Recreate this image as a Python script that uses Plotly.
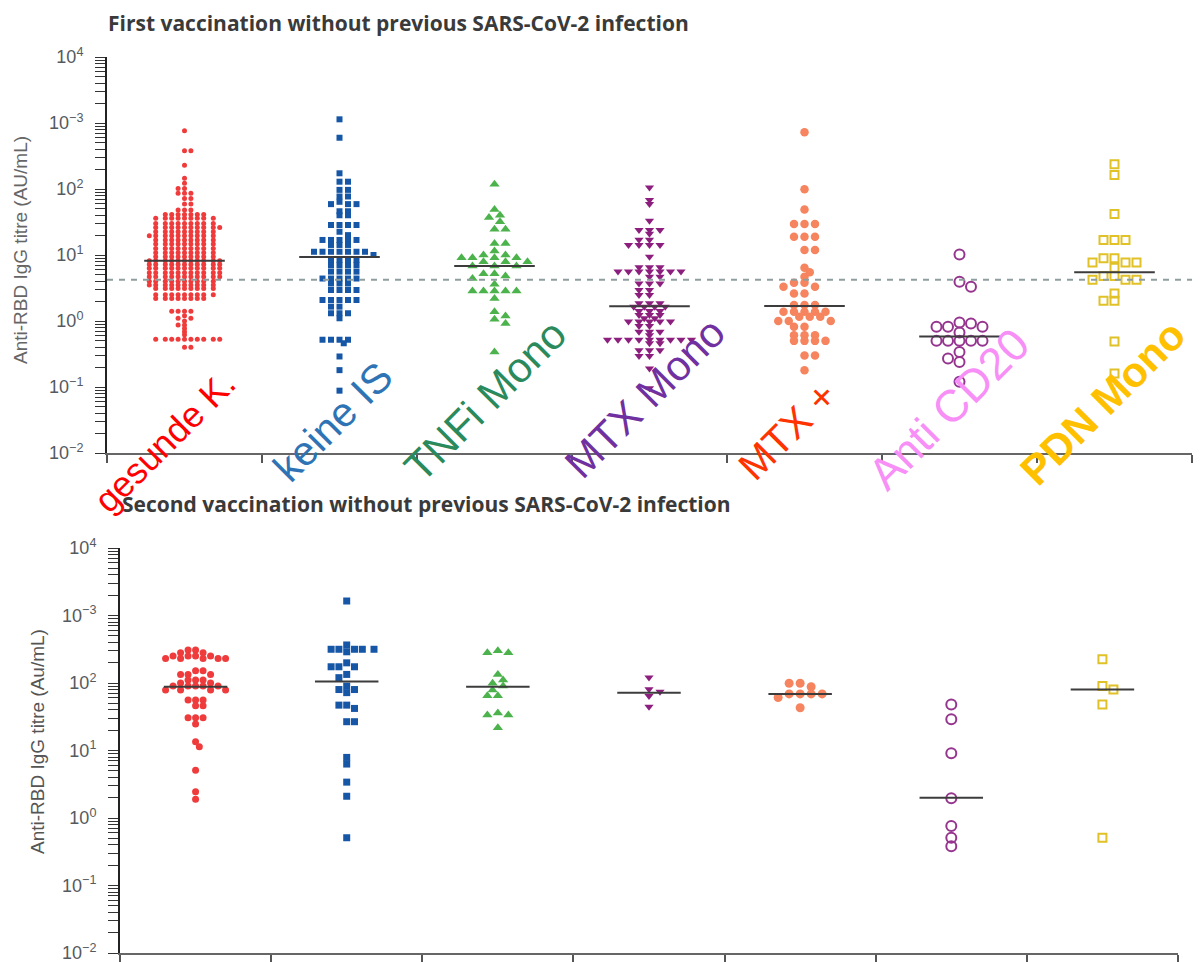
import numpy as np
import plotly.graph_objects as go

W, H = 1203, 962
PAGE_OFFSET = 8  # the html body margin shifts the figure by this many pixels

# ---------------- data ----------------
categories = ["gesunde K.", "keine IS", "TNFi Mono", "MTX Mono", "MTX +", "Anti CD20", "PDN Mono"]
label_colors = ["#ff0000", "#2e74b5", "#2a8a5c", "#7030a0", "#ff3300", "#f78ff7", "#ffc000"]
label_bold = [False, False, False, False, False, False, True]
label_sizes = [36, 41, 42, 42, 40, 45, 42]

marker_colors = ["#ef3b3b", "#1556a6", "#4cb24c", "#8c1f7e", "#f5845f", "#96358f", "#e0c228"]
marker_symbols = ["circle", "square", "triangle-up", "triangle-down", "circle", "circle-open", "square-open"]

first_healthy = [
    765, 380, 380, 230, 145, 122, 102, 102, 86, 86, 86, 72, 72, 59, 59, 48, 48, 48,
    41, 41, 41, 41, 41, 41, 41,
    36, 36, 36, 36, 36, 36, 36, 36, 36,
    30, 30, 30, 30, 30, 30, 30, 30, 30,
    26, 26, 26, 26, 26, 26, 26, 26, 26, 26,
    22.5, 22.5, 22.5, 22.5, 22.5, 22.5, 22.5, 22.5, 22.5,
    19.6, 19.6, 19.6, 19.6, 19.6, 19.6, 19.6, 19.6, 19.6, 19.6,
    16.9, 16.9, 16.9, 16.9, 16.9, 16.9, 16.9, 16.9, 16.9,
    14.7, 14.7, 14.7, 14.7, 14.7, 14.7, 14.7, 14.7, 14.7,
    12.6, 12.6, 12.6, 12.6, 12.6, 12.6, 12.6, 12.6, 12.6,
    10.8, 10.8, 10.8, 10.8, 10.8, 10.8, 10.8, 10.8, 10.8,
    9.4, 9.4, 9.4, 9.4, 9.4, 9.4, 9.4, 9.4, 9.4,
    8.2, 8.2, 8.2, 8.2, 8.2, 8.2, 8.2, 8.2, 8.2, 8.2, 8.2,
    7.2, 7.2, 7.2, 7.2, 7.2, 7.2, 7.2, 7.2, 7.2, 7.2, 7.2,
    6.3, 6.3, 6.3, 6.3, 6.3, 6.3, 6.3, 6.3, 6.3, 6.3, 6.3,
    5.4, 5.4, 5.4, 5.4, 5.4, 5.4, 5.4, 5.4, 5.4, 5.4, 5.4,
    4.7, 4.7, 4.7, 4.7, 4.7, 4.7, 4.7, 4.7, 4.7, 4.7, 4.7,
    4.0, 4.0, 4.0, 4.0, 4.0, 4.0, 4.0, 4.0, 4.0, 4.0,
    3.5, 3.5, 3.5, 3.5, 3.5, 3.5, 3.5, 3.5, 3.5, 3.5,
    3.1, 3.1, 3.1, 3.1, 3.1, 3.1, 3.1, 3.1, 3.1,
    2.5, 2.5, 2.5, 2.5, 2.5, 2.5, 2.5, 2.5, 2.5,
    2.2, 2.2, 2.2, 2.2, 2.2, 2.2, 2.2, 2.2,
    1.4, 1.4, 1.4, 1.4, 1.2, 1.1, 1.1, 1.0, 0.87, 0.87, 0.77, 0.69, 0.62,
    0.53, 0.53, 0.53, 0.53, 0.53, 0.53, 0.53, 0.53, 0.53, 0.53, 0.40, 0.40,
]
first_no_is = [
    1137, 598, 173, 129, 129, 97, 97, 77, 77, 64, 59, 59, 59, 46, 46, 40, 40,
    28.5, 28.5, 28.5, 28.5, 22.5, 20, 16.9, 16.9, 16.9, 16.9, 16.9, 14.2, 14.2, 14.2,
    11.2, 11.2, 11.2, 11.2, 11.2, 11.2, 11.2, 10, 8.4, 8.4, 8.4, 8.4, 7.0, 7.0, 7.0, 7.0,
    5.6, 5.6, 5.6, 5.6, 4.4, 4.4, 4.4, 4.4, 4.4, 3.7, 3.7, 3.7, 2.95, 2.95, 2.95, 2.95,
    2.08, 2.08, 2.08, 2.08, 2.08, 1.65, 1.65, 1.31, 1.31, 1.31, 1.1,
    0.52, 0.52, 0.52, 0.52, 0.46, 0.29, 0.18, 0.088,
]
first_tnfi = [
    118, 49, 40, 37, 32, 24.5, 24.5, 15, 15, 11.5, 10, 10, 9.1, 9.1, 9.1, 9.1,
    7.9, 7.9, 7.9, 6.8, 6.8, 6.8, 5.2, 5.2, 4.8, 4.4, 3.6, 2.85, 2.85, 2.85, 2.85, 2.85,
    2.2, 1.38, 1.19, 1.06, 0.92, 0.34,
]
first_mtx = [
    105, 68, 59, 33, 24, 24, 24, 21, 17, 17, 14.2, 14.2, 14.2, 14.2, 9.4,
    6.5, 6.5, 6.5, 5.6, 5.6, 5.6, 5.6, 5.6, 5.6, 5.6, 4.7, 4.7, 3.7, 3.7, 3.7,
    2.95, 2.95, 2.48, 2.48, 1.85, 1.85, 1.85, 1.65, 1.65, 1.65, 1.65, 1.42, 1.42, 1.42,
    1.23, 1.23, 1.23, 1.1, 1.1, 0.98, 0.98, 0.98, 0.98, 0.98, 0.84, 0.84, 0.69, 0.69, 0.69,
    0.61, 0.52, 0.52, 0.52, 0.52, 0.52, 0.52, 0.52, 0.52, 0.52, 0.46, 0.46,
    0.36, 0.36, 0.36, 0.295, 0.295, 0.19, 0.096,
]
first_mtx_plus = [
    723, 99, 49, 29.5, 29.5, 29.5, 18.9, 18.9, 18.9, 11.9, 11.9, 6.4, 5.5, 4.7,
    3.8, 3.8, 3.3, 3.3, 2.6, 2.6, 1.75, 1.75, 1.75, 1.38, 1.38, 1.38, 1.38, 1.38,
    1.16, 1.16, 1.16, 1.0, 1.0, 1.0, 0.82, 0.82, 0.61, 0.61, 0.61, 0.5, 0.5, 0.5, 0.5,
    0.3, 0.3, 0.18,
]
first_cd20 = [10.2, 3.94, 3.3, 0.95, 0.92, 0.82, 0.82, 0.82, 0.67, 0.5, 0.5, 0.5, 0.5, 0.5, 0.34, 0.27, 0.24, 0.12]
first_pdn = [237, 163, 41.8, 16.9, 16.9, 16.9, 8.9, 8.9, 7.7, 7.7, 7.7, 6.4, 4.8, 4.8, 4.2, 4.2, 4.2, 2.6, 2.03, 2.03, 0.49, 0.16]

second_healthy = [
    308, 308, 281, 281, 251, 251, 251, 251, 230, 230, 230, 230, 230, 152, 152, 134, 134, 134,
    111, 111, 111, 100, 100, 90, 90, 90, 90, 90, 79, 79, 79, 79, 56, 56, 56, 46, 46,
    30.6, 30.6, 30.6, 24.7, 13.5, 11.4, 5.1, 2.45, 1.9,
]
second_no_is = [
    1640, 366, 316, 316, 316, 316, 316, 290, 199, 174, 174, 174, 134, 120, 90, 80, 80, 72,
    47, 47, 42, 26.7, 26.7, 7.9, 6.3, 3.4, 2.1, 0.51,
]
second_tnfi = [301, 280, 280, 134, 111, 99, 90, 79, 65, 65, 36, 33.5, 33.5, 21.8]
second_mtx = [121, 81, 74, 64, 44.6]
second_mtx_plus = [99, 99, 88, 69, 69, 69, 69, 61, 43]
second_cd20 = [48, 29, 9.1, 1.96, 0.76, 0.51, 0.38]
second_pdn = [224, 90, 80, 48, 0.51]

first_values = [first_healthy, first_no_is, first_tnfi, first_mtx, first_mtx_plus, first_cd20, first_pdn]
second_values = [second_healthy, second_no_is, second_tnfi, second_mtx, second_mtx_plus, second_cd20, second_pdn]
first_medians = [8.2, 9.3, 6.8, 1.68, 1.69, 0.58, 5.5]
second_medians = [88, 105, 88, 72, 69, 2.0, 80]
threshold = 4.2

y_tickvals = [0.01, 0.1, 1, 10, 100, 1000, 10000]
y_ticktext = ["10<sup>\u22122</sup>", "10<sup>\u22121</sup>", "10<sup>0</sup>", "10<sup>1</sup>",
              "10<sup>2</sup>", "10<sup>\u22123</sup>", "10<sup>4</sup>"]
minor_decades = [0.01, 0.1, 1, 10, 100, 1000]
minor_mantissas = [2, 3, 4, 5, 6, 7, 8, 9]

title_first = "First vaccination without previous SARS-CoV-2 infection"
title_second = "Second vaccination without previous SARS-CoV-2 infection"
ytitle_first = "Anti-RBD IgG titre (AU/mL)"
ytitle_second = "Anti-RBD IgG titre (Au/mL)"


# ---------------- layout geometry (screen pixels) ----------------
def px(x):
    return (x - PAGE_OFFSET) / W


def py(y):
    return 1 - (y - PAGE_OFFSET) / H


top_box = dict(x0=107, x1=1192, y0=57, y1=453)
bot_box = dict(x0=120, x1=1178, y0=548, y1=953)

# per-group marker styling: (size, spacing px, vertical interaction px)
style_first = [(5, 6.4, 3), (6, 8.5, 4), (9, 11, 6), (8, 10.5, 3.5), (8.5, 10.5, 5), (10, 11.5, 8), (8, 11, 7)]
style_second = [(7, 7.5, 5), (7, 7.8, 5), (9, 10.5, 6), (8, 11, 6), (9, 11, 6), (10, 12, 8), (8, 11, 7)]


def swarm(values, cat_px, dec_px, sx, sy):
    vals = np.asarray(values, float)
    order = np.argsort(-vals, kind="stable")
    ypx = np.log10(vals) * dec_px
    placed = []
    offs = np.zeros(len(vals))
    step = sx / 2.0
    for n, idx in enumerate(order):
        y = ypx[idx]
        near = [(dx, p) for dx, p in placed if abs(p - y) < sy]
        k = 0
        chosen = None
        while chosen is None:
            if k == 0:
                cands = [0.0]
            else:
                cands = [k * step, -k * step] if n % 2 == 0 else [-k * step, k * step]
            for c in cands:
                if all(((c - dx) / sx) ** 2 + ((y - p) / sy) ** 2 >= 1 for dx, p in near):
                    chosen = c
                    break
            k += 1
        offs[idx] = chosen
        placed.append((chosen, y))
    return offs / cat_px


fig = go.Figure()


def add_panel(values_list, medians, styles, box, xa, ya, med_half, show_threshold):
    cat_px = (box["x1"] - box["x0"]) / 7.0
    dec_px = (box["y1"] - box["y0"]) / 6.0
    for i, vals in enumerate(values_list):
        size, sx, sy = styles[i]
        offs = swarm(vals, cat_px, dec_px, sx, sy)
        sym = marker_symbols[i]
        mk = dict(symbol=sym, size=size, color=marker_colors[i])
        if sym.endswith("open"):
            mk["line"] = dict(width=2, color=marker_colors[i])
        else:
            mk["line"] = dict(width=0)
        fig.add_trace(go.Scatter(x=i + 0.5 + offs, y=vals, mode="markers", marker=mk,
                                 xaxis=xa, yaxis=ya, showlegend=False, hoverinfo="y",
                                 name=categories[i]))
    if show_threshold:
        fig.add_trace(go.Scatter(x=[0, 7], y=[threshold, threshold], mode="lines",
                                 line=dict(color="#8e9e9e", width=2, dash="6px,6px"),
                                 xaxis=xa, yaxis=ya, showlegend=False, hoverinfo="skip"))
    mx, my = [], []
    for i, m in enumerate(medians):
        mx += [i + 0.5 - med_half, i + 0.5 + med_half, None]
        my += [m, m, None]
    fig.add_trace(go.Scatter(x=mx, y=my, mode="lines", line=dict(color="#3c3c3c", width=2),
                             xaxis=xa, yaxis=ya, showlegend=False, hoverinfo="skip"))


add_panel(first_values, first_medians, style_first, top_box, "x", "y", 0.26, True)
add_panel(second_values, second_medians, style_second, bot_box, "x2", "y2", 0.21, False)

minor_vals = [d * m for d in minor_decades for m in minor_mantissas]


def xaxis_for(box, anchor):
    return dict(domain=[px(box["x0"]), px(box["x1"])], range=[0, 7], tickvals=list(range(8)),
                ticks="outside", ticklen=8, tickwidth=1.5, tickcolor="#555",
                showticklabels=False, showline=True, linecolor="#666", linewidth=2,
                showgrid=False, zeroline=False, anchor=anchor, fixedrange=True, automargin=False)


def yaxis_for(box, anchor):
    return dict(domain=[py(box["y1"]), py(box["y0"])], type="log", range=[-2, 4],
                tickmode="array", tickvals=y_tickvals, ticktext=y_ticktext, ticks="outside",
                ticklen=10, tickwidth=1.2, tickcolor="#333", showline=True, linecolor="#222",
                linewidth=2, showgrid=False, zeroline=False, anchor=anchor, automargin=False,
                ticklabelstandoff=8,
                tickfont=dict(family="Liberation Sans, Arial", size=18, color="#555a60"),
                minor=dict(tickmode="array", tickvals=minor_vals, ticks="outside", ticklen=10,
                           tickwidth=1.1, tickcolor="#333", showgrid=False),
                fixedrange=True)


title_font = dict(family="Open Sans, Liberation Sans", size=21, color="#3a3a3a", weight="bold")
annotations = [
    dict(text=title_first, x=px(107), y=1, xref="paper", yref="paper", borderpad=0,
         xanchor="left", yanchor="top", showarrow=False, font=title_font),
    dict(text=title_second, x=px(120), y=py(504), xref="paper", yref="paper",
         xanchor="left", yanchor="middle", showarrow=False, font=title_font),
    dict(text=ytitle_first, x=px(21), y=py(250), xref="paper", yref="paper", textangle=-90,
         xanchor="center", yanchor="middle", showarrow=False,
         font=dict(family="Liberation Sans, Arial", size=19, color="#666")),
    dict(text=ytitle_second, x=px(37), y=py(742), xref="paper", yref="paper", textangle=-90,
         xanchor="center", yanchor="middle", showarrow=False,
         font=dict(family="Liberation Sans, Arial", size=19, color="#555")),
]

label_centers = [(165, 442), (333, 422), (485, 400), (644, 398), (787, 431), (948, 409), (1103, 403)]
for i, cat in enumerate(categories):
    cx, cy = label_centers[i]
    txt = "<b>" + cat + "</b>" if label_bold[i] else cat
    annotations.append(dict(text=txt, x=px(cx), y=py(cy), xref="paper", yref="paper",
                            textangle=-45, xanchor="center", yanchor="middle", showarrow=False,
                            font=dict(family="Liberation Sans, Arial", size=label_sizes[i],
                                      color=label_colors[i])))

fig.update_layout(
    width=W, height=H, margin=dict(l=0, r=0, t=0, b=0, autoexpand=False),
    paper_bgcolor="white", plot_bgcolor="white", showlegend=False,
    xaxis=xaxis_for(top_box, "y"), yaxis=yaxis_for(top_box, "x"),
    xaxis2=xaxis_for(bot_box, "y2"), yaxis2=yaxis_for(bot_box, "x2"),
    annotations=annotations,
)

fig.write_html("out.html")
